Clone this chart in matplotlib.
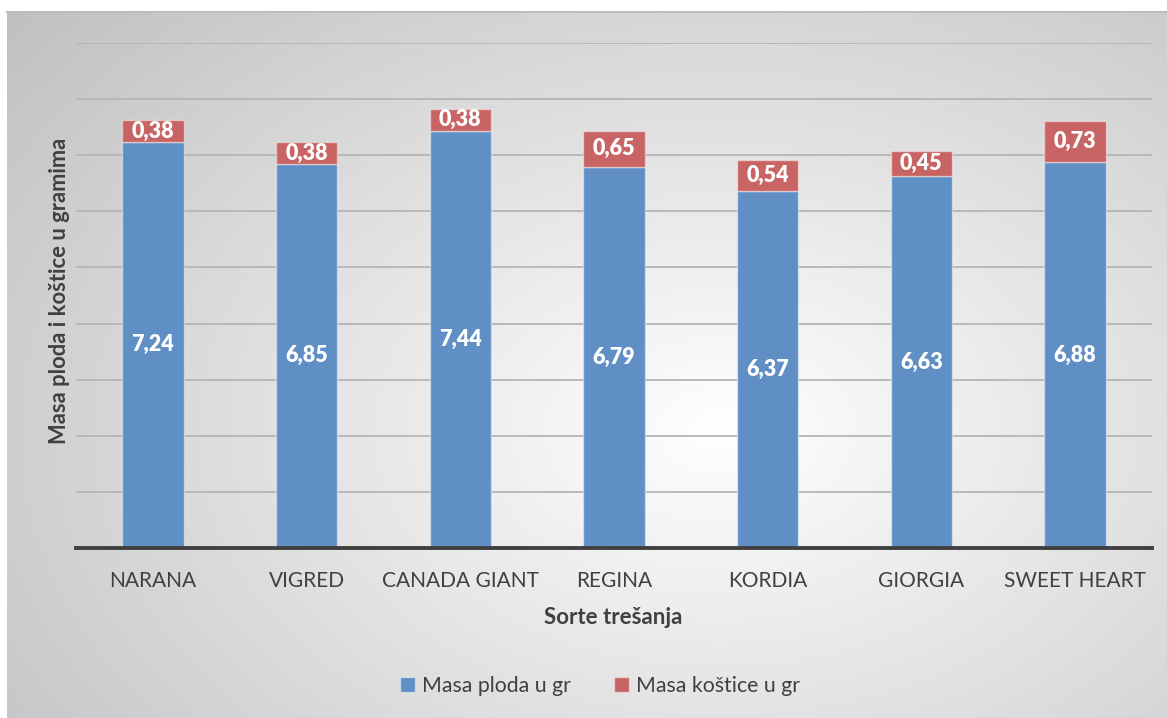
import numpy as np
import matplotlib
matplotlib.use("Agg")
import matplotlib.pyplot as plt
from matplotlib.patches import Patch

categories = ["NARANA", "VIGRED", "CANADA GIANT", "REGINA", "KORDIA", "GIORGIA", "SWEET HEART"]
masa_ploda = [7.24, 6.85, 7.44, 6.79, 6.37, 6.63, 6.88]
masa_kostice = [0.38, 0.38, 0.38, 0.65, 0.54, 0.45, 0.73]
series_names = ["Masa ploda u gr", "Masa koštice u gr"]
x_title = "Sorte trešanja"
y_title = "Masa ploda i koštice u gramima"

plt.rcParams['font.family'] = ['Lato', 'DejaVu Sans']

W, H = 1167, 718
fig = plt.figure(figsize=(W / 100, H / 100), dpi=100)
fig.patch.set_facecolor("white")

# gradient background panel
bx0, by_top = 7, 12
bg = fig.add_axes([bx0 / W, 0, 1 - bx0 / W, 1 - by_top / H], zorder=0)
nx, ny = 600, 400
xs = np.linspace(bx0, W, nx)
ys = np.linspace(by_top, H, ny)
XX, YY = np.meshgrid(xs, ys)
cx, cy, ax_, ay_ = 720, 430, 760, 520
d = np.sqrt(((XX - cx) / ax_) ** 2 + ((YY - cy) / ay_) ** 2)
val = np.clip(1.0 - 0.2 * d, 0.74, 1.0)
img = np.dstack([val, val, val])
bg.imshow(img, aspect="auto", extent=[0, 1, 0, 1], origin="upper")
bg.set_xlim(0, 1)
bg.set_ylim(0, 1)
bg.axis("off")
bg.plot([0, 1], [1, 1], color="#bdbdbd", lw=1.5, transform=bg.transAxes, clip_on=False)

ax = fig.add_axes([76 / W, 1 - 548 / H, (1152 - 76) / W, (548 - 43) / H], zorder=1)
ax.set_facecolor("none")

x = np.arange(len(categories))
blue = "#608FC6"
red = "#C96464"
edge = (1, 1, 1, 0.45)
b1 = ax.bar(x, masa_ploda, width=0.4, color=blue, edgecolor=edge, linewidth=1, zorder=3)
b2 = ax.bar(x, masa_kostice, width=0.4, bottom=masa_ploda, color=red, edgecolor=edge, linewidth=1, zorder=3)

for xi, p, k in zip(x, masa_ploda, masa_kostice):
    ax.text(xi, p / 2, f"{p:.2f}".replace(".", ","), ha="center", va="center",
            color="white", fontsize=15.5, fontweight="heavy", zorder=4)
    ax.text(xi, p + k / 2, f"{k:.2f}".replace(".", ","), ha="center", va="center",
            color="white", fontsize=15.5, fontweight="heavy", zorder=4)

ax.set_xlim(-0.5, len(categories) - 0.5)
ax.set_ylim(0, 9)
ax.set_yticks(np.arange(0, 10, 1))
ax.yaxis.grid(True, color="#b5b5b5", lw=1.3, zorder=1)
ax.set_axisbelow(True)
ax.tick_params(axis="y", left=False, labelleft=False)
ax.set_xticks(x)
ax.set_xticklabels(categories, fontsize=15, color="#404040")
ax.tick_params(axis="x", length=0, pad=16.5)
for s in ["top", "right", "left"]:
    ax.spines[s].set_visible(False)
ax.spines["bottom"].set_color("#404040")
ax.spines["bottom"].set_linewidth(2.8)
ax.spines["bottom"].set_zorder(5)

fig.text(613 / W, 1 - 617 / H, x_title, ha="center", va="center",
         fontsize=16, fontweight="bold", color="#404040", zorder=5)
fig.text(60 / W, 1 - 291 / H, y_title, ha="center", va="center", rotation=90,
         fontsize=15.8, fontweight="bold", color="#404040", zorder=5)

handles = [Patch(facecolor=blue, edgecolor=edge), Patch(facecolor=red, edgecolor=edge)]
leg = fig.legend(handles, series_names, loc="center", bbox_to_anchor=(600 / W, 1 - 686 / H),
                 ncol=2, frameon=False, fontsize=15.3, handlelength=0.7, handleheight=0.7,
                 handletextpad=0.35, columnspacing=2.0, labelcolor="#404040")
leg.set_zorder(5)

fig.savefig("out.png", dpi=100)
